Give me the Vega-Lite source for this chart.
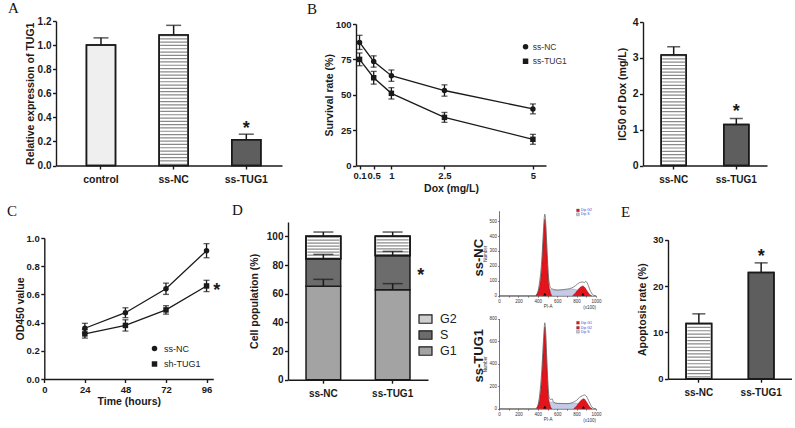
{
  "$schema": "https://vega.github.io/schema/vega-lite/v6.json",
  "padding": {"left": 7, "top": 0, "right": 0, "bottom": 0},
  "background": "white",
  "spacing": 9,
  "resolve": {"scale": {"fill": "independent", "shape": "independent"}, "legend": {"fill": "independent", "shape": "independent"}},
  "config": {
    "view": {"stroke": null},
    "font": "Liberation Sans",
    "axis": {"domainColor": "#1a1a1a", "domainWidth": 1.4, "tickColor": "#1a1a1a", "tickWidth": 1.4, "tickSize": 3.5, "labelFont": "Liberation Sans", "labelFontWeight": "bold", "labelFontSize": 10.5, "labelColor": "#1a1a1a", "labelPadding": 1.5, "titleFont": "Liberation Sans", "titleFontWeight": "bold", "titleFontSize": 10.5, "titleColor": "#1a1a1a", "titlePadding": 3, "grid": false, "labelFlush": false, "labelOverlap": false, "tickCount": 20},
    "title": {"font": "Liberation Serif", "fontSize": 15, "fontWeight": "normal", "color": "#111111", "anchor": "start", "frame": "group"},
    "legend": {"labelFont": "Liberation Sans", "labelFontWeight": "normal", "labelColor": "#222222"}
  },
  "datasets": {
    "a": [
      {"group": "control", "mean": 1.0, "upper": 1.06},
      {"group": "ss-NC", "mean": 1.084, "upper": 1.164},
      {"group": "ss-TUG1", "mean": 0.213, "upper": 0.26, "star": "*", "starY": 0.346}
    ],
    "bcurve": [
      {"group": "ss-NC", "dose": 0.1, "mean": 87, "lo": 82, "hi": 92},
      {"group": "ss-NC", "dose": 0.5, "mean": 73.5, "lo": 69.5, "hi": 77.5},
      {"group": "ss-NC", "dose": 1, "mean": 63.5, "lo": 59.5, "hi": 67.5},
      {"group": "ss-NC", "dose": 2.5, "mean": 53, "lo": 49, "hi": 57},
      {"group": "ss-NC", "dose": 5, "mean": 40, "lo": 36.5, "hi": 43.5},
      {"group": "ss-TUG1", "dose": 0.1, "mean": 75, "lo": 70.5, "hi": 79.5},
      {"group": "ss-TUG1", "dose": 0.5, "mean": 62, "lo": 57.5, "hi": 66.5},
      {"group": "ss-TUG1", "dose": 1, "mean": 51, "lo": 47, "hi": 55},
      {"group": "ss-TUG1", "dose": 2.5, "mean": 34, "lo": 30.5, "hi": 37.5},
      {"group": "ss-TUG1", "dose": 5, "mean": 18.5, "lo": 15, "hi": 22}
    ],
    "bic50": [
      {"group": "ss-NC", "mean": 3.08, "upper": 3.31},
      {"group": "ss-TUG1", "mean": 1.14, "upper": 1.31, "star": "*", "starY": 1.62}
    ],
    "c": [
      {"group": "ss-NC", "time": 24, "mean": 0.36, "lo": 0.325, "hi": 0.395},
      {"group": "ss-NC", "time": 48, "mean": 0.47, "lo": 0.435, "hi": 0.505},
      {"group": "ss-NC", "time": 72, "mean": 0.64, "lo": 0.6, "hi": 0.68},
      {"group": "ss-NC", "time": 96, "mean": 0.91, "lo": 0.86, "hi": 0.96},
      {"group": "sh-TUG1", "time": 24, "mean": 0.32, "lo": 0.29, "hi": 0.35},
      {"group": "sh-TUG1", "time": 48, "mean": 0.38, "lo": 0.34, "hi": 0.42},
      {"group": "sh-TUG1", "time": 72, "mean": 0.49, "lo": 0.46, "hi": 0.52},
      {"group": "sh-TUG1", "time": 96, "mean": 0.66, "lo": 0.62, "hi": 0.7}
    ],
    "d": [
      {"group": "ss-NC", "phase": "G1", "ord": 1, "value": 65.1},
      {"group": "ss-NC", "phase": "S", "ord": 2, "value": 19.3},
      {"group": "ss-NC", "phase": "G2", "ord": 3, "value": 15.6},
      {"group": "ss-TUG1", "phase": "G1", "ord": 1, "value": 62.8},
      {"group": "ss-TUG1", "phase": "S", "ord": 2, "value": 23.9},
      {"group": "ss-TUG1", "phase": "G2", "ord": 3, "value": 13.3}
    ],
    "dg2": [
      {"group": "ss-NC", "lo": 84.4, "hi": 100},
      {"group": "ss-TUG1", "lo": 86.7, "hi": 100}
    ],
    "derr": [
      {"group": "ss-NC", "phase": "G1", "top": 65.1, "upper": 70},
      {"group": "ss-NC", "phase": "S", "top": 84.4, "upper": 87.4},
      {"group": "ss-NC", "phase": "G2", "top": 100, "upper": 103},
      {"group": "ss-TUG1", "phase": "G1", "top": 62.8, "upper": 67},
      {"group": "ss-TUG1", "phase": "S", "top": 86.7, "upper": 89.5},
      {"group": "ss-TUG1", "phase": "G2", "top": 100, "upper": 103}
    ],
    "e": [
      {"group": "ss-NC", "mean": 11.9, "upper": 14},
      {"group": "ss-TUG1", "mean": 22.9, "upper": 25, "star": "*", "starY": 27.4}
    ],
    "fnc": [
      {"series": "total", "x": 0, "y": 0}, {"series": "total", "x": 370, "y": 0}, {"series": "total", "x": 390, "y": 8}, {"series": "total", "x": 420, "y": 100}, {"series": "total", "x": 440, "y": 230}, {"series": "total", "x": 455, "y": 400}, {"series": "total", "x": 465, "y": 510}, {"series": "total", "x": 472, "y": 547}, {"series": "total", "x": 480, "y": 505}, {"series": "total", "x": 490, "y": 380}, {"series": "total", "x": 500, "y": 240}, {"series": "total", "x": 510, "y": 130}, {"series": "total", "x": 522, "y": 70}, {"series": "total", "x": 535, "y": 50}, {"series": "total", "x": 550, "y": 45}, {"series": "total", "x": 600, "y": 38}, {"series": "total", "x": 650, "y": 40}, {"series": "total", "x": 700, "y": 44}, {"series": "total", "x": 750, "y": 52}, {"series": "total", "x": 790, "y": 68}, {"series": "total", "x": 830, "y": 88}, {"series": "total", "x": 860, "y": 92}, {"series": "total", "x": 880, "y": 88}, {"series": "total", "x": 895, "y": 96}, {"series": "total", "x": 915, "y": 78}, {"series": "total", "x": 940, "y": 35}, {"series": "total", "x": 965, "y": 8}, {"series": "total", "x": 990, "y": 0}, {"series": "total", "x": 1000, "y": 0},
      {"series": "g1", "x": 380, "y": 0}, {"series": "g1", "x": 420, "y": 70}, {"series": "g1", "x": 440, "y": 190}, {"series": "g1", "x": 455, "y": 360}, {"series": "g1", "x": 465, "y": 470}, {"series": "g1", "x": 472, "y": 513}, {"series": "g1", "x": 480, "y": 470}, {"series": "g1", "x": 490, "y": 340}, {"series": "g1", "x": 500, "y": 210}, {"series": "g1", "x": 510, "y": 100}, {"series": "g1", "x": 525, "y": 35}, {"series": "g1", "x": 545, "y": 0},
      {"series": "g2", "x": 760, "y": 0}, {"series": "g2", "x": 790, "y": 20}, {"series": "g2", "x": 820, "y": 45}, {"series": "g2", "x": 850, "y": 62}, {"series": "g2", "x": 865, "y": 65}, {"series": "g2", "x": 885, "y": 55}, {"series": "g2", "x": 910, "y": 30}, {"series": "g2", "x": 935, "y": 8}, {"series": "g2", "x": 955, "y": 0},
      {"series": "s", "x": 480, "y": 0}, {"series": "s", "x": 505, "y": 40}, {"series": "s", "x": 530, "y": 42}, {"series": "s", "x": 560, "y": 38}, {"series": "s", "x": 620, "y": 36}, {"series": "s", "x": 700, "y": 40}, {"series": "s", "x": 760, "y": 45}, {"series": "s", "x": 800, "y": 40}, {"series": "s", "x": 840, "y": 28}, {"series": "s", "x": 880, "y": 12}, {"series": "s", "x": 910, "y": 0},
      {"series": "peak", "x": 472, "y": 0}, {"series": "peak", "x": 865, "y": 0}
    ],
    "ftug": [
      {"series": "total", "x": 0, "y": 0}, {"series": "total", "x": 370, "y": 0}, {"series": "total", "x": 390, "y": 8}, {"series": "total", "x": 420, "y": 130}, {"series": "total", "x": 440, "y": 330}, {"series": "total", "x": 455, "y": 560}, {"series": "total", "x": 465, "y": 700}, {"series": "total", "x": 472, "y": 764}, {"series": "total", "x": 480, "y": 700}, {"series": "total", "x": 490, "y": 500}, {"series": "total", "x": 500, "y": 300}, {"series": "total", "x": 510, "y": 150}, {"series": "total", "x": 522, "y": 90}, {"series": "total", "x": 535, "y": 80}, {"series": "total", "x": 548, "y": 88}, {"series": "total", "x": 560, "y": 60}, {"series": "total", "x": 600, "y": 48}, {"series": "total", "x": 700, "y": 45}, {"series": "total", "x": 760, "y": 55}, {"series": "total", "x": 800, "y": 75}, {"series": "total", "x": 830, "y": 100}, {"series": "total", "x": 860, "y": 115}, {"series": "total", "x": 880, "y": 122}, {"series": "total", "x": 900, "y": 112}, {"series": "total", "x": 930, "y": 60}, {"series": "total", "x": 960, "y": 12}, {"series": "total", "x": 990, "y": 0}, {"series": "total", "x": 1000, "y": 0},
      {"series": "g1", "x": 385, "y": 0}, {"series": "g1", "x": 420, "y": 90}, {"series": "g1", "x": 440, "y": 270}, {"series": "g1", "x": 455, "y": 500}, {"series": "g1", "x": 465, "y": 650}, {"series": "g1", "x": 472, "y": 726}, {"series": "g1", "x": 480, "y": 650}, {"series": "g1", "x": 490, "y": 450}, {"series": "g1", "x": 500, "y": 260}, {"series": "g1", "x": 510, "y": 110}, {"series": "g1", "x": 525, "y": 35}, {"series": "g1", "x": 545, "y": 0},
      {"series": "g2", "x": 770, "y": 0}, {"series": "g2", "x": 800, "y": 25}, {"series": "g2", "x": 830, "y": 60}, {"series": "g2", "x": 860, "y": 85}, {"series": "g2", "x": 875, "y": 89}, {"series": "g2", "x": 895, "y": 70}, {"series": "g2", "x": 920, "y": 35}, {"series": "g2", "x": 945, "y": 8}, {"series": "g2", "x": 960, "y": 0},
      {"series": "s", "x": 480, "y": 0}, {"series": "s", "x": 505, "y": 55}, {"series": "s", "x": 540, "y": 60}, {"series": "s", "x": 580, "y": 48}, {"series": "s", "x": 650, "y": 44}, {"series": "s", "x": 720, "y": 45}, {"series": "s", "x": 790, "y": 50}, {"series": "s", "x": 830, "y": 42}, {"series": "s", "x": 870, "y": 25}, {"series": "s", "x": 910, "y": 8}, {"series": "s", "x": 930, "y": 0},
      {"series": "peak", "x": 472, "y": 0}, {"series": "peak", "x": 870, "y": 0}
    ],
    "fnckey": [
      {"x": 814, "y": 572, "label": "Dip G2", "swatch": "#e3141c"},
      {"x": 814, "y": 545, "label": "Dip S", "swatch": "#c5cbe6"}
    ],
    "ftugkey": [
      {"x": 814, "y": 764, "label": "Dip G1", "swatch": "#e3141c"},
      {"x": 814, "y": 720, "label": "Dip G2", "swatch": "#e3141c"},
      {"x": 814, "y": 684, "label": "Dip S", "swatch": "#c5cbe6"}
    ]
  },
  "vconcat": [
    {
      "resolve": {"scale": {"fill": "independent", "shape": "independent"}, "legend": {"fill": "independent", "shape": "independent"}},
      "hconcat": [
        {
          "width": 226, "height": 144.5,
          "title": {"text": "A", "dx": -48, "offset": 0.5},
          "data": {"name": "a"},
          "encoding": {"x": {"field": "group", "type": "nominal", "scale": {"domain": ["control", "ss-NC", "ss-TUG1"], "paddingInner": 0.6, "paddingOuter": 0.355, "align": 0.59}, "axis": {"title": null, "labelAngle": 0, "labelPadding": 5}}},
          "layer": [
            {"mark": {"type": "bar", "stroke": "#1a1a1a", "strokeWidth": 1.5},
             "encoding": {"y": {"field": "mean", "type": "quantitative", "scale": {"domain": [0, 1.2]}, "axis": {"title": "Relative expression of TUG1", "values": [0, 0.2, 0.4, 0.6, 0.8, 1, 1.2], "format": ".1f", "tickCount": 20, "labelFontSize": 10, "titleX": -26, "titleBaseline": "middle"}},
                          "fill": {"field": "group", "type": "nominal", "scale": {"domain": ["control", "ss-NC", "ss-TUG1"], "range": ["#efefef", "#ffffff", "#5e5e5e"]}, "legend": null}}},
            {"transform": [{"filter": "datum.group === 'ss-NC'"}], "mark": {"type": "rule", "strokeWidth": 27, "strokeDash": [1.2, 2.1], "color": "#8a8a8a", "strokeCap": "butt"}, "encoding": {"y": {"field": "mean", "type": "quantitative"}, "y2": {"datum": 0}}},
            {"mark": {"type": "bar", "fillOpacity": 0, "stroke": "#1a1a1a", "strokeWidth": 1.5}, "encoding": {"y": {"field": "mean", "type": "quantitative"}}},
            {"mark": {"type": "rule", "color": "#1a1a1a", "strokeWidth": 1.5}, "encoding": {"y": {"field": "mean", "type": "quantitative"}, "y2": {"field": "upper"}}},
            {"mark": {"type": "tick", "orient": "horizontal", "size": 15, "thickness": 1.5, "color": "#1a1a1a"}, "encoding": {"y": {"field": "upper", "type": "quantitative"}}},
            {"transform": [{"filter": "datum.star"}], "mark": {"type": "text", "fontSize": 18, "fontWeight": "bold", "baseline": "alphabetic", "dy": 10, "color": "#1a1a1a"}, "encoding": {"y": {"field": "starY", "type": "quantitative"}, "text": {"field": "star", "type": "nominal"}}}
          ]
        },
        {
          "resolve": {"scale": {"fill": "independent", "shape": "independent"}, "legend": {"fill": "independent", "shape": "independent"}},
          "hconcat": [
            {
              "width": 190, "height": 144.5,
              "title": {"text": "B", "dx": -49, "offset": 2.5},
              "data": {"name": "bcurve"},
              "encoding": {"x": {"field": "dose", "type": "quantitative", "scale": {"domain": [0, 5.37], "nice": false}, "axis": {"title": "Dox  (mg/L)", "values": [0.1, 0.5, 1, 2.5, 5], "format": "~g", "tickCount": 20, "labelFontSize": 9.5, "titlePadding": 3}}},
              "layer": [
                {"mark": {"type": "line", "color": "#1a1a1a", "strokeWidth": 1.3}, "encoding": {"y": {"field": "mean", "type": "quantitative", "scale": {"domain": [0, 100], "range": [144.5, 3]}, "axis": {"title": "Survival rate (%)", "values": [0, 25, 50, 75, 100], "format": "d", "tickCount": 20, "labelFontSize": 9.5, "titleX": -26.5, "titleBaseline": "middle"}}, "detail": {"field": "group", "type": "nominal"}}},
                {"mark": {"type": "rule", "color": "#1a1a1a", "strokeWidth": 1.3}, "encoding": {"y": {"field": "lo", "type": "quantitative"}, "y2": {"field": "hi"}}},
                {"mark": {"type": "tick", "orient": "horizontal", "size": 6, "thickness": 1.3, "color": "#1a1a1a"}, "encoding": {"y": {"field": "lo", "type": "quantitative"}}},
                {"mark": {"type": "tick", "orient": "horizontal", "size": 6, "thickness": 1.3, "color": "#1a1a1a"}, "encoding": {"y": {"field": "hi", "type": "quantitative"}}},
                {"mark": {"type": "point", "filled": true, "color": "#1a1a1a", "size": 30, "opacity": 1},
                 "encoding": {"y": {"field": "mean", "type": "quantitative"},
                              "shape": {"field": "group", "type": "nominal", "scale": {"domain": ["ss-NC", "ss-TUG1"], "range": ["circle", "square"]},
                                        "legend": {"title": null, "orient": "none", "legendX": 165.3, "legendY": 21.5, "padding": 0, "labelFontSize": 8.5, "labelColor": "#333333", "symbolSize": 30, "symbolFillColor": "#1a1a1a", "symbolStrokeColor": "#1a1a1a", "rowPadding": 2.5, "labelOffset": 3}}}}
              ]
            },
            {
              "width": 124, "height": 144.5,
              "data": {"name": "bic50"},
              "encoding": {"x": {"field": "group", "type": "nominal", "scale": {"domain": ["ss-NC", "ss-TUG1"], "paddingInner": 0.6, "paddingOuter": 0.29}, "axis": {"title": null, "labelAngle": 0, "labelPadding": 5, "labelFontSize": 10}}},
              "layer": [
                {"mark": {"type": "bar", "stroke": "#1a1a1a", "strokeWidth": 1.5},
                 "encoding": {"y": {"field": "mean", "type": "quantitative", "scale": {"domain": [0, 4], "range": [144.5, 1]}, "axis": {"title": "IC50 of Dox  (mg/L)", "values": [0, 1, 2, 3, 4], "format": "d", "tickCount": 20, "titleX": -21, "titleBaseline": "middle"}},
                              "fill": {"field": "group", "type": "nominal", "scale": {"domain": ["ss-NC", "ss-TUG1"], "range": ["#ffffff", "#5e5e5e"]}, "legend": null}}},
                {"transform": [{"filter": "datum.group === 'ss-NC'"}], "mark": {"type": "rule", "strokeWidth": 23, "strokeDash": [1.2, 2.1], "color": "#8a8a8a", "strokeCap": "butt"}, "encoding": {"y": {"field": "mean", "type": "quantitative"}, "y2": {"datum": 0}}},
                {"mark": {"type": "bar", "fillOpacity": 0, "stroke": "#1a1a1a", "strokeWidth": 1.5}, "encoding": {"y": {"field": "mean", "type": "quantitative"}}},
                {"mark": {"type": "rule", "color": "#1a1a1a", "strokeWidth": 1.5}, "encoding": {"y": {"field": "mean", "type": "quantitative"}, "y2": {"field": "upper"}}},
                {"mark": {"type": "tick", "orient": "horizontal", "size": 13, "thickness": 1.5, "color": "#1a1a1a"}, "encoding": {"y": {"field": "upper", "type": "quantitative"}}},
                {"transform": [{"filter": "datum.star"}], "mark": {"type": "text", "fontSize": 18, "fontWeight": "bold", "baseline": "alphabetic", "dy": 10, "color": "#1a1a1a"}, "encoding": {"y": {"field": "starY", "type": "quantitative"}, "text": {"field": "star", "type": "nominal"}}}
              ]
            }
          ],
          "spacing": 49
        }
      ],
      "spacing": 25
    },
    {
      "resolve": {"scale": {"fill": "independent", "shape": "independent"}, "legend": {"fill": "independent", "shape": "independent"}},
      "hconcat": [
        {
          "resolve": {"scale": {"fill": "independent", "shape": "independent"}, "legend": {"fill": "independent", "shape": "independent"}},
          "hconcat": [
            {
              "width": 157.3, "height": 141,
              "title": {"text": "C", "dx": -49, "offset": 14.5},
              "data": {"name": "c"},
              "encoding": {"x": {"field": "time", "type": "quantitative", "scale": {"domain": [0, 100], "nice": false, "range": [-11.7, 157.3]}, "axis": {"title": "Time (hours)", "values": [0, 24, 48, 72, 96], "tickCount": 20, "labelFontSize": 9.5}}},
              "layer": [
                {"mark": {"type": "line", "color": "#1a1a1a", "strokeWidth": 1.3}, "encoding": {"y": {"field": "mean", "type": "quantitative", "scale": {"domain": [0, 1]}, "axis": {"title": "OD450 value", "values": [0, 0.2, 0.4, 0.6, 0.8, 1], "format": ".1f", "offset": 11.7, "tickCount": 20, "labelFontSize": 9.5, "titleX": -24.3, "titleBaseline": "middle"}}, "detail": {"field": "group", "type": "nominal"}}},
                {"mark": {"type": "rule", "color": "#1a1a1a", "strokeWidth": 1.3}, "encoding": {"y": {"field": "lo", "type": "quantitative"}, "y2": {"field": "hi"}}},
                {"mark": {"type": "tick", "orient": "horizontal", "size": 6, "thickness": 1.3, "color": "#1a1a1a"}, "encoding": {"y": {"field": "lo", "type": "quantitative"}}},
                {"mark": {"type": "tick", "orient": "horizontal", "size": 6, "thickness": 1.3, "color": "#1a1a1a"}, "encoding": {"y": {"field": "hi", "type": "quantitative"}}},
                {"mark": {"type": "point", "filled": true, "color": "#1a1a1a", "size": 30, "opacity": 1},
                 "encoding": {"y": {"field": "mean", "type": "quantitative"},
                              "shape": {"field": "group", "type": "nominal", "scale": {"domain": ["ss-NC", "sh-TUG1"], "range": ["circle", "square"]},
                                        "legend": {"title": null, "orient": "none", "legendX": 94, "legendY": 106, "padding": 0, "labelFontSize": 9, "labelColor": "#222222", "symbolSize": 30, "symbolFillColor": "#1a1a1a", "symbolStrokeColor": "#1a1a1a", "rowPadding": 2.5, "labelOffset": 5}}}},
                {"data": {"values": [{"time": 102, "y": 0.66, "t": "*"}]}, "mark": {"type": "text", "fontSize": 18, "fontWeight": "bold", "baseline": "alphabetic", "dy": 10, "color": "#1a1a1a"}, "encoding": {"y": {"field": "y", "type": "quantitative"}, "text": {"field": "t", "type": "nominal"}}}
              ]
            },
            {
              "width": 140, "height": 141.7,
              "title": {"text": "D", "dx": -56, "offset": 2},
              "encoding": {"x": {"field": "group", "type": "nominal", "scale": {"domain": ["ss-NC", "ss-TUG1"], "paddingInner": 0.5, "paddingOuter": 0.26}, "axis": {"title": null, "labelAngle": 0, "labelPadding": 5, "labelFontSize": 10}}},
              "layer": [
                {"data": {"name": "d"}, "mark": {"type": "bar", "stroke": "#1a1a1a", "strokeWidth": 1.5},
                 "encoding": {"y": {"field": "value", "type": "quantitative", "stack": "zero", "scale": {"domain": [0, 110], "range": [141.7, -16]}, "axis": {"title": "Cell population (%)", "values": [0, 20, 40, 60, 80, 100], "format": "d", "tickCount": 20, "labelFontSize": 10, "titleX": -33.5, "titleBaseline": "middle"}},
                              "fill": {"field": "phase", "type": "nominal", "scale": {"domain": ["G2", "S", "G1"], "range": ["#cfcfcf", "#6c6c6c", "#a3a3a3"]},
                                       "legend": {"title": null, "orient": "none", "legendX": 121, "legendY": 64.5, "padding": 9, "symbolType": "M-1,-0.65H1V0.65H-1Z", "symbolSize": 169, "symbolStrokeColor": "#1a1a1a", "symbolStrokeWidth": 1.2, "labelFontSize": 12.5, "labelColor": "#222222", "labelOffset": 7, "rowPadding": 1}},
                              "order": {"field": "ord", "type": "quantitative"}}},
                {"data": {"name": "dg2"}, "mark": {"type": "bar", "fill": "#ffffff", "stroke": "#1a1a1a", "strokeWidth": 1.5}, "encoding": {"y": {"field": "lo", "type": "quantitative"}, "y2": {"field": "hi"}}},
                {"data": {"name": "dg2"}, "mark": {"type": "rule", "strokeWidth": 32, "strokeDash": [1.2, 1.8], "color": "#8a8a8a", "strokeCap": "butt"}, "encoding": {"y": {"field": "lo", "type": "quantitative"}, "y2": {"field": "hi"}}},
                {"data": {"name": "dg2"}, "mark": {"type": "bar", "fillOpacity": 0, "stroke": "#1a1a1a", "strokeWidth": 1.5}, "encoding": {"y": {"field": "lo", "type": "quantitative"}, "y2": {"field": "hi"}}},
                {"data": {"name": "derr"}, "mark": {"type": "rule", "color": "#1a1a1a", "strokeWidth": 1.5}, "encoding": {"y": {"field": "top", "type": "quantitative"}, "y2": {"field": "upper"}}},
                {"data": {"name": "derr"}, "mark": {"type": "tick", "orient": "horizontal", "size": 20, "thickness": 1.5, "color": "#1a1a1a"}, "encoding": {"y": {"field": "upper", "type": "quantitative"}}},
                {"data": {"values": [{"group": "ss-TUG1", "y": 75.6, "t": "*"}]}, "mark": {"type": "text", "fontSize": 18, "fontWeight": "bold", "baseline": "alphabetic", "dy": 10, "dx": 28, "color": "#1a1a1a"}, "encoding": {"y": {"field": "y", "type": "quantitative"}, "text": {"field": "t", "type": "nominal"}}}
              ]
            },
            {
              "width": 97, "height": 141,
              "resolve": {"scale": {"x": "independent", "y": "independent"}, "axis": {"x": "independent", "y": "independent"}},
              "layer": [
                {
                  "data": {"name": "fnc"},
                  "encoding": {"x": {"field": "x", "type": "quantitative", "scale": {"domain": [0, 1000], "nice": false},
                                     "axis": {"orient": "bottom", "title": "PI-A", "offset": -83.3, "titleY": 11, "titleBaseline": "middle", "values": [0, 100, 200, 300, 400, 500, 600, 700, 800, 900, 1000], "tickCount": 20, "labelExpr": "datum.value % 200 === 0 ? format(datum.value, 'd') : ''", "labelFontSize": 4.5, "labelFontWeight": "normal", "titleFontSize": 4.5, "titleFontWeight": "normal", "tickSize": 1.5, "tickWidth": 0.5, "domainWidth": 0.6, "labelPadding": 1, "labelColor": "#333333", "titleColor": "#333333"}}},
                  "layer": [
                    {"transform": [{"filter": "datum.series === 's'"}], "mark": {"type": "area", "fill": "#c5cbe6", "stroke": "#8890b8", "strokeWidth": 0.4, "interpolate": "monotone"},
                     "encoding": {"y": {"field": "y", "type": "quantitative", "scale": {"domain": [0, 570], "nice": false, "range": [57.7, -27.3]},
                                        "axis": {"orient": "left", "title": "Number", "values": [0, 100, 200, 300, 400, 500], "format": "d", "tickCount": 20, "labelFontSize": 4.5, "labelFontWeight": "normal", "titleFontSize": 4.5, "titleFontWeight": "normal", "tickSize": 1.5, "tickWidth": 0.5, "domainWidth": 0.6, "labelPadding": 1, "titlePadding": 1, "labelColor": "#333333", "titleColor": "#333333"}}}},
                    {"transform": [{"filter": "datum.series === 'g1'"}], "mark": {"type": "area", "fill": "#e3141c", "stroke": "#7a0000", "strokeWidth": 0.4, "interpolate": "monotone"}, "encoding": {"y": {"field": "y", "type": "quantitative"}}},
                    {"transform": [{"filter": "datum.series === 'g2'"}], "mark": {"type": "area", "fill": "#e3141c", "stroke": "#7a0000", "strokeWidth": 0.4, "interpolate": "monotone"}, "encoding": {"y": {"field": "y", "type": "quantitative"}}},
                    {"transform": [{"filter": "datum.series === 'total'"}], "mark": {"type": "line", "color": "#555555", "strokeWidth": 0.7, "interpolate": "monotone"}, "encoding": {"y": {"field": "y", "type": "quantitative"}}},
                    {"transform": [{"filter": "datum.series === 'peak'"}], "mark": {"type": "point", "shape": "triangle-up", "filled": true, "color": "#000000", "size": 10, "opacity": 1, "yOffset": -1.5}, "encoding": {"y": {"field": "y", "type": "quantitative"}}},
                    {"data": {"name": "fnckey"}, "mark": {"type": "point", "shape": "square", "filled": true, "size": 8, "opacity": 1, "stroke": "#555555", "strokeWidth": 0.3}, "encoding": {"y": {"field": "y", "type": "quantitative"}, "fill": {"field": "swatch", "type": "nominal", "scale": null}}},
                    {"data": {"name": "fnckey"}, "mark": {"type": "text", "fontSize": 3.5, "align": "left", "baseline": "middle", "dx": 3, "color": "#3344cc"}, "encoding": {"y": {"field": "y", "type": "quantitative"}, "text": {"field": "label", "type": "nominal"}}},
                    {"data": {"values": [{"x": 1000, "y": -80, "t": "(x100)"}]}, "mark": {"type": "text", "fontSize": 4.5, "align": "right", "baseline": "middle", "color": "#333333"}, "encoding": {"y": {"field": "y", "type": "quantitative"}, "text": {"field": "t", "type": "nominal"}}},
                    {"data": {"values": [{"x": -206, "y": 255, "t": "ss-NC"}]}, "mark": {"type": "text", "fontSize": 13, "fontWeight": "bold", "angle": 270, "align": "center", "baseline": "middle", "color": "#1a1a1a"}, "encoding": {"y": {"field": "y", "type": "quantitative"}, "text": {"field": "t", "type": "nominal"}}}
                  ]
                },
                {
                  "data": {"name": "ftug"},
                  "encoding": {"x": {"field": "x", "type": "quantitative", "scale": {"domain": [0, 1000], "nice": false},
                                     "axis": {"orient": "bottom", "title": "PI-A", "offset": 29.7, "titleY": 11, "titleBaseline": "middle", "values": [0, 100, 200, 300, 400, 500, 600, 700, 800, 900, 1000], "tickCount": 20, "labelExpr": "datum.value % 200 === 0 ? format(datum.value, 'd') : ''", "labelFontSize": 4.5, "labelFontWeight": "normal", "titleFontSize": 4.5, "titleFontWeight": "normal", "tickSize": 1.5, "tickWidth": 0.5, "domainWidth": 0.6, "labelPadding": 1, "labelColor": "#333333", "titleColor": "#333333"}}},
                  "layer": [
                    {"transform": [{"filter": "datum.series === 's'"}], "mark": {"type": "area", "fill": "#c5cbe6", "stroke": "#8890b8", "strokeWidth": 0.4, "interpolate": "monotone"},
                     "encoding": {"y": {"field": "y", "type": "quantitative", "scale": {"domain": [0, 800], "nice": false, "range": [170.7, 80.7]},
                                        "axis": {"orient": "left", "title": "Number", "values": [0, 200, 400, 600, 800], "format": "d", "tickCount": 20, "labelFontSize": 4.5, "labelFontWeight": "normal", "titleFontSize": 4.5, "titleFontWeight": "normal", "tickSize": 1.5, "tickWidth": 0.5, "domainWidth": 0.6, "labelPadding": 1, "titlePadding": 1, "labelColor": "#333333", "titleColor": "#333333"}}}},
                    {"transform": [{"filter": "datum.series === 'g1'"}], "mark": {"type": "area", "fill": "#e3141c", "stroke": "#7a0000", "strokeWidth": 0.4, "interpolate": "monotone"}, "encoding": {"y": {"field": "y", "type": "quantitative"}}},
                    {"transform": [{"filter": "datum.series === 'g2'"}], "mark": {"type": "area", "fill": "#e3141c", "stroke": "#7a0000", "strokeWidth": 0.4, "interpolate": "monotone"}, "encoding": {"y": {"field": "y", "type": "quantitative"}}},
                    {"transform": [{"filter": "datum.series === 'total'"}], "mark": {"type": "line", "color": "#555555", "strokeWidth": 0.7, "interpolate": "monotone"}, "encoding": {"y": {"field": "y", "type": "quantitative"}}},
                    {"transform": [{"filter": "datum.series === 'peak'"}], "mark": {"type": "point", "shape": "triangle-up", "filled": true, "color": "#000000", "size": 10, "opacity": 1, "yOffset": -1.5}, "encoding": {"y": {"field": "y", "type": "quantitative"}}},
                    {"data": {"name": "ftugkey"}, "mark": {"type": "point", "shape": "square", "filled": true, "size": 8, "opacity": 1, "stroke": "#555555", "strokeWidth": 0.3}, "encoding": {"y": {"field": "y", "type": "quantitative"}, "fill": {"field": "swatch", "type": "nominal", "scale": null}}},
                    {"data": {"name": "ftugkey"}, "mark": {"type": "text", "fontSize": 3.5, "align": "left", "baseline": "middle", "dx": 3, "color": "#3344cc"}, "encoding": {"y": {"field": "y", "type": "quantitative"}, "text": {"field": "label", "type": "nominal"}}},
                    {"data": {"values": [{"x": 1000, "y": -110, "t": "(x100)"}]}, "mark": {"type": "text", "fontSize": 4.5, "align": "right", "baseline": "middle", "color": "#333333"}, "encoding": {"y": {"field": "y", "type": "quantitative"}, "text": {"field": "t", "type": "nominal"}}},
                    {"data": {"values": [{"x": -206, "y": 471, "t": "ss-TUG1"}]}, "mark": {"type": "text", "fontSize": 13, "fontWeight": "bold", "angle": 270, "align": "center", "baseline": "middle", "color": "#1a1a1a"}, "encoding": {"y": {"field": "y", "type": "quantitative"}, "text": {"field": "t", "type": "nominal"}}}
                  ]
                }
              ]
            }
          ],
          "spacing": 7
        },
        {
          "width": 124, "height": 140.7,
          "title": {"text": "E", "dx": -47, "offset": 15},
          "data": {"name": "e"},
          "encoding": {"x": {"field": "group", "type": "nominal", "scale": {"domain": ["ss-NC", "ss-TUG1"], "paddingInner": 0.59, "paddingOuter": 0.29}, "axis": {"title": null, "labelAngle": 0, "labelPadding": 5, "labelFontSize": 10}}},
          "layer": [
            {"mark": {"type": "bar", "stroke": "#1a1a1a", "strokeWidth": 1.5},
             "encoding": {"y": {"field": "mean", "type": "quantitative", "scale": {"domain": [0, 30], "range": [140.7, 1.7]}, "axis": {"title": "Apoptosis rate (%)", "values": [0, 10, 20, 30], "format": "d", "tickCount": 20, "labelFontSize": 9.5, "titleX": -25.8, "titleBaseline": "middle"}},
                          "fill": {"field": "group", "type": "nominal", "scale": {"domain": ["ss-NC", "ss-TUG1"], "range": ["#ffffff", "#5e5e5e"]}, "legend": null}}},
            {"transform": [{"filter": "datum.group === 'ss-NC'"}], "mark": {"type": "rule", "strokeWidth": 23, "strokeDash": [1.2, 2.1], "color": "#8a8a8a", "strokeCap": "butt"}, "encoding": {"y": {"field": "mean", "type": "quantitative"}, "y2": {"datum": 0}}},
            {"mark": {"type": "bar", "fillOpacity": 0, "stroke": "#1a1a1a", "strokeWidth": 1.5}, "encoding": {"y": {"field": "mean", "type": "quantitative"}}},
            {"mark": {"type": "rule", "color": "#1a1a1a", "strokeWidth": 1.5}, "encoding": {"y": {"field": "mean", "type": "quantitative"}, "y2": {"field": "upper"}}},
            {"mark": {"type": "tick", "orient": "horizontal", "size": 13, "thickness": 1.5, "color": "#1a1a1a"}, "encoding": {"y": {"field": "upper", "type": "quantitative"}}},
            {"transform": [{"filter": "datum.star"}], "mark": {"type": "text", "fontSize": 18, "fontWeight": "bold", "baseline": "alphabetic", "dy": 10, "color": "#1a1a1a"}, "encoding": {"y": {"field": "starY", "type": "quantitative"}, "text": {"field": "star", "type": "nominal"}}}
          ]
        }
      ],
      "spacing": 19
    }
  ]
}
